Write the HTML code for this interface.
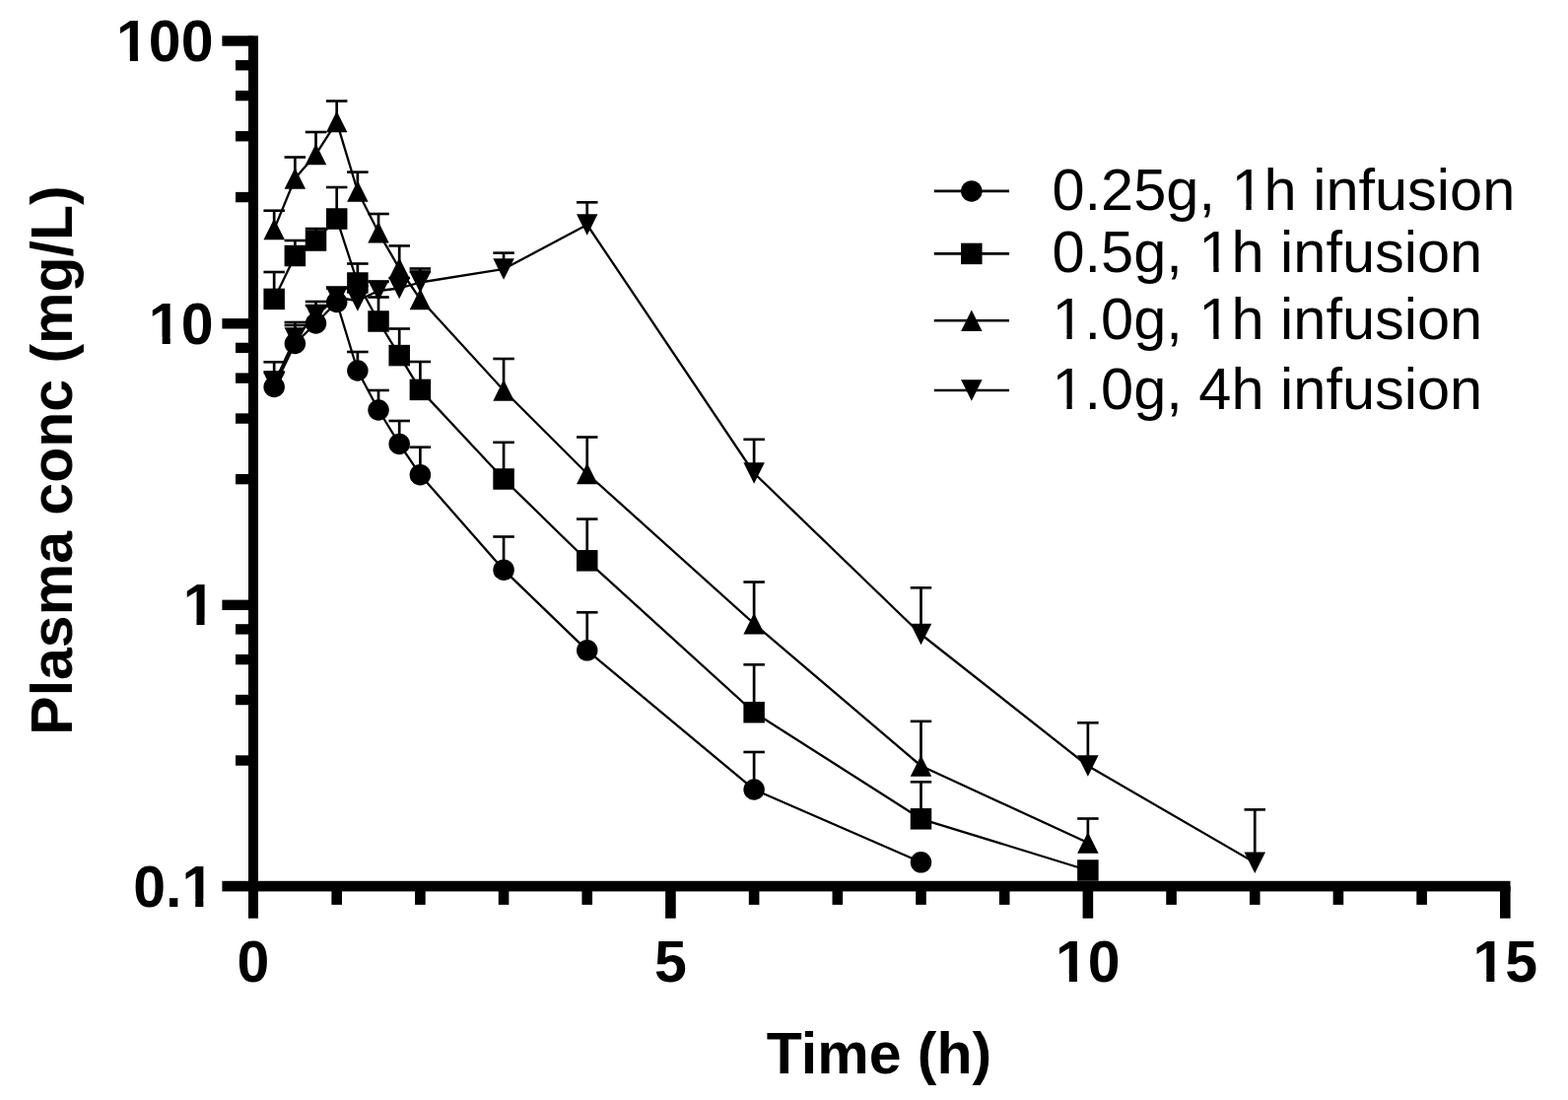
<!DOCTYPE html>
<html><head><meta charset="utf-8"><title>Plasma concentration</title>
<style>
html,body{margin:0;padding:0;background:#fff;}
body{width:1591px;height:1116px;overflow:hidden;}
svg{display:block;}
.ax{font-family:"Liberation Sans",Arial,sans-serif;font-weight:bold;font-size:59px;fill:#000;}
.lg{font-family:"Liberation Sans",Arial,sans-serif;font-weight:normal;font-size:59.5px;fill:#000;}
</style></head><body>
<svg width="1591" height="1116" viewBox="0 0 1591 1116">
<rect width="100%" height="100%" fill="#fff"/>
<g fill="#000">
<rect x="252" y="36.3" width="10" height="895.4"/>
<rect x="225.4" y="893.8" width="1307.1" height="10.6"/>
<rect x="225.4" y="36.3" width="31.6" height="10.4"/>
<rect x="225.4" y="323.1" width="31.6" height="10.4"/>
<rect x="225.4" y="608.6" width="31.6" height="10.4"/>
<rect x="239" y="194.86" width="18" height="10.4"/>
<rect x="239" y="133.02" width="18" height="10.4"/>
<rect x="239" y="91.89" width="18" height="10.4"/>
<rect x="239" y="61.02" width="18" height="10.4"/>
<rect x="239" y="480.94" width="18" height="10.4"/>
<rect x="239" y="419.38" width="18" height="10.4"/>
<rect x="239" y="378.44" width="18" height="10.4"/>
<rect x="239" y="347.71" width="18" height="10.4"/>
<rect x="239" y="766.33" width="18" height="10.4"/>
<rect x="239" y="704.82" width="18" height="10.4"/>
<rect x="239" y="663.9" width="18" height="10.4"/>
<rect x="239" y="633.19" width="18" height="10.4"/>
<rect x="336.39" y="899.1" width="10.6" height="18.8"/>
<rect x="421.07" y="899.1" width="10.6" height="18.8"/>
<rect x="505.76" y="899.1" width="10.6" height="18.8"/>
<rect x="590.45" y="899.1" width="10.6" height="18.8"/>
<rect x="675.13" y="899.1" width="10.6" height="32.6"/>
<rect x="759.82" y="899.1" width="10.6" height="18.8"/>
<rect x="844.51" y="899.1" width="10.6" height="18.8"/>
<rect x="929.19" y="899.1" width="10.6" height="18.8"/>
<rect x="1013.88" y="899.1" width="10.6" height="18.8"/>
<rect x="1098.57" y="899.1" width="10.6" height="32.6"/>
<rect x="1183.25" y="899.1" width="10.6" height="18.8"/>
<rect x="1267.94" y="899.1" width="10.6" height="18.8"/>
<rect x="1352.63" y="899.1" width="10.6" height="18.8"/>
<rect x="1437.31" y="899.1" width="10.6" height="18.8"/>
<rect x="1522" y="899.1" width="10.6" height="32.6"/>
</g>
<g fill="#000">
<polyline points="278.17,389 299.34,343 320.51,320 341.69,302 362.86,305 384.03,295 405.2,292.5 426.37,286.5 511.06,273 595.75,228 765.12,480 934.49,643.5 1103.87,777 1273.24,875.2" fill="none" stroke="#000" stroke-width="2.3" stroke-linejoin="round"/>
<path d="M278.17 389V367.3M299.34 343V327M320.51 320V306M341.69 302V291.5M362.86 305V290M384.03 295V285.9M405.2 292.5V282M426.37 286.5V272.5M511.06 273V256.6M595.75 228V205.3M765.12 480V445.8M934.49 643.5V596.3M1103.87 777V733.3M1273.24 875.2V821.4" fill="none" stroke="#000" stroke-width="2.7"/>
<rect x="267.42" y="366" width="21.5" height="2.6"/>
<rect x="288.59" y="325.7" width="21.5" height="2.6"/>
<rect x="309.76" y="304.7" width="21.5" height="2.6"/>
<rect x="330.94" y="290.2" width="21.5" height="2.6"/>
<rect x="352.11" y="288.7" width="21.5" height="2.6"/>
<rect x="373.28" y="284.6" width="21.5" height="2.6"/>
<rect x="394.45" y="280.7" width="21.5" height="2.6"/>
<rect x="415.62" y="271.2" width="21.5" height="2.6"/>
<rect x="500.31" y="255.3" width="21.5" height="2.6"/>
<rect x="585" y="204" width="21.5" height="2.6"/>
<rect x="754.37" y="444.5" width="21.5" height="2.6"/>
<rect x="923.74" y="595" width="21.5" height="2.6"/>
<rect x="1093.12" y="732" width="21.5" height="2.6"/>
<rect x="1262.49" y="820.1" width="21.5" height="2.6"/>
<polygon points="267.42,378.25 288.92,378.25 278.17,399.75"/>
<polygon points="288.59,332.25 310.09,332.25 299.34,353.75"/>
<polygon points="309.76,309.25 331.26,309.25 320.51,330.75"/>
<polygon points="330.94,291.25 352.44,291.25 341.69,312.75"/>
<polygon points="352.11,294.25 373.61,294.25 362.86,315.75"/>
<polygon points="373.28,284.25 394.78,284.25 384.03,305.75"/>
<polygon points="394.45,281.75 415.95,281.75 405.2,303.25"/>
<polygon points="415.62,275.75 437.12,275.75 426.37,297.25"/>
<polygon points="500.31,262.25 521.81,262.25 511.06,283.75"/>
<polygon points="585,217.25 606.5,217.25 595.75,238.75"/>
<polygon points="754.37,469.25 775.87,469.25 765.12,490.75"/>
<polygon points="923.74,632.75 945.24,632.75 934.49,654.25"/>
<polygon points="1093.12,766.25 1114.62,766.25 1103.87,787.75"/>
<polygon points="1262.49,864.45 1283.99,864.45 1273.24,885.95"/>
<polyline points="278.17,232.6 299.34,181 320.51,156.6 341.69,123.6 362.86,194 384.03,235.8 405.2,272.3 426.37,303.5 511.06,396 595.75,480.5 765.12,632.8 934.49,777 1103.87,855" fill="none" stroke="#000" stroke-width="2.3" stroke-linejoin="round"/>
<path d="M278.17 232.6V213.7M299.34 181V159.5M320.51 156.6V134M341.69 123.6V102.5M362.86 194V174.6M384.03 235.8V217M405.2 272.3V249.4M426.37 303.5V275.5M511.06 396V364M595.75 480.5V443.5M765.12 632.8V590.5M934.49 777V731.8M1103.87 855V830.5" fill="none" stroke="#000" stroke-width="2.7"/>
<rect x="267.42" y="212.4" width="21.5" height="2.6"/>
<rect x="288.59" y="158.2" width="21.5" height="2.6"/>
<rect x="309.76" y="132.7" width="21.5" height="2.6"/>
<rect x="330.94" y="101.2" width="21.5" height="2.6"/>
<rect x="352.11" y="173.3" width="21.5" height="2.6"/>
<rect x="373.28" y="215.7" width="21.5" height="2.6"/>
<rect x="394.45" y="248.1" width="21.5" height="2.6"/>
<rect x="415.62" y="274.2" width="21.5" height="2.6"/>
<rect x="500.31" y="362.7" width="21.5" height="2.6"/>
<rect x="585" y="442.2" width="21.5" height="2.6"/>
<rect x="754.37" y="589.2" width="21.5" height="2.6"/>
<rect x="923.74" y="730.5" width="21.5" height="2.6"/>
<rect x="1093.12" y="829.2" width="21.5" height="2.6"/>
<polygon points="278.17,221.85 288.92,243.35 267.42,243.35"/>
<polygon points="299.34,170.25 310.09,191.75 288.59,191.75"/>
<polygon points="320.51,145.85 331.26,167.35 309.76,167.35"/>
<polygon points="341.69,112.85 352.44,134.35 330.94,134.35"/>
<polygon points="362.86,183.25 373.61,204.75 352.11,204.75"/>
<polygon points="384.03,225.05 394.78,246.55 373.28,246.55"/>
<polygon points="405.2,261.55 415.95,283.05 394.45,283.05"/>
<polygon points="426.37,292.75 437.12,314.25 415.62,314.25"/>
<polygon points="511.06,385.25 521.81,406.75 500.31,406.75"/>
<polygon points="595.75,469.75 606.5,491.25 585,491.25"/>
<polygon points="765.12,622.05 775.87,643.55 754.37,643.55"/>
<polygon points="934.49,766.25 945.24,787.75 923.74,787.75"/>
<polygon points="1103.87,844.25 1114.62,865.75 1093.12,865.75"/>
<polyline points="278.17,303.4 299.34,259.5 320.51,244 341.69,222 362.86,287 384.03,326 405.2,360.6 426.37,395.4 511.06,486 595.75,568.8 765.12,722.7 934.49,830.8 1103.87,883" fill="none" stroke="#000" stroke-width="2.3" stroke-linejoin="round"/>
<path d="M278.17 303.4V276M299.34 259.5V244M320.51 244V232M341.69 222V190M362.86 287V267.5M384.03 326V301.5M405.2 360.6V333.5M426.37 395.4V367M511.06 486V448.8M595.75 568.8V526.6M765.12 722.7V674.3M934.49 830.8V793.3" fill="none" stroke="#000" stroke-width="2.7"/>
<rect x="267.42" y="274.7" width="21.5" height="2.6"/>
<rect x="288.59" y="242.7" width="21.5" height="2.6"/>
<rect x="309.76" y="230.7" width="21.5" height="2.6"/>
<rect x="330.94" y="188.7" width="21.5" height="2.6"/>
<rect x="352.11" y="266.2" width="21.5" height="2.6"/>
<rect x="373.28" y="300.2" width="21.5" height="2.6"/>
<rect x="394.45" y="332.2" width="21.5" height="2.6"/>
<rect x="415.62" y="365.7" width="21.5" height="2.6"/>
<rect x="500.31" y="447.5" width="21.5" height="2.6"/>
<rect x="585" y="525.3" width="21.5" height="2.6"/>
<rect x="754.37" y="673" width="21.5" height="2.6"/>
<rect x="923.74" y="792" width="21.5" height="2.6"/>
<rect x="267.42" y="292.65" width="21.5" height="21.5"/>
<rect x="288.59" y="248.75" width="21.5" height="21.5"/>
<rect x="309.76" y="233.25" width="21.5" height="21.5"/>
<rect x="330.94" y="211.25" width="21.5" height="21.5"/>
<rect x="352.11" y="276.25" width="21.5" height="21.5"/>
<rect x="373.28" y="315.25" width="21.5" height="21.5"/>
<rect x="394.45" y="349.85" width="21.5" height="21.5"/>
<rect x="415.62" y="384.65" width="21.5" height="21.5"/>
<rect x="500.31" y="475.25" width="21.5" height="21.5"/>
<rect x="585" y="558.05" width="21.5" height="21.5"/>
<rect x="754.37" y="711.95" width="21.5" height="21.5"/>
<rect x="923.74" y="820.05" width="21.5" height="21.5"/>
<rect x="1093.12" y="872.25" width="21.5" height="21.5"/>
<polyline points="278.17,392.5 299.34,348.5 320.51,328 341.69,306.5 362.86,376 384.03,416 405.2,450.4 426.37,481.7 511.06,578.2 595.75,659.8 765.12,801 934.49,874.8" fill="none" stroke="#000" stroke-width="2.3" stroke-linejoin="round"/>
<path d="M278.17 392.5V377.5M299.34 348.5V330M320.51 328V310M341.69 306.5V292.5M362.86 376V357M384.03 416V396M405.2 450.4V427M426.37 481.7V453.7M511.06 578.2V544.5M595.75 659.8V621.3M765.12 801V763" fill="none" stroke="#000" stroke-width="2.7"/>
<rect x="267.42" y="376.2" width="21.5" height="2.6"/>
<rect x="288.59" y="328.7" width="21.5" height="2.6"/>
<rect x="309.76" y="308.7" width="21.5" height="2.6"/>
<rect x="330.94" y="291.2" width="21.5" height="2.6"/>
<rect x="352.11" y="355.7" width="21.5" height="2.6"/>
<rect x="373.28" y="394.7" width="21.5" height="2.6"/>
<rect x="394.45" y="425.7" width="21.5" height="2.6"/>
<rect x="415.62" y="452.4" width="21.5" height="2.6"/>
<rect x="500.31" y="543.2" width="21.5" height="2.6"/>
<rect x="585" y="620" width="21.5" height="2.6"/>
<rect x="754.37" y="761.7" width="21.5" height="2.6"/>
<circle cx="278.17" cy="392.5" r="10.75"/>
<circle cx="299.34" cy="348.5" r="10.75"/>
<circle cx="320.51" cy="328" r="10.75"/>
<circle cx="341.69" cy="306.5" r="10.75"/>
<circle cx="362.86" cy="376" r="10.75"/>
<circle cx="384.03" cy="416" r="10.75"/>
<circle cx="405.2" cy="450.4" r="10.75"/>
<circle cx="426.37" cy="481.7" r="10.75"/>
<circle cx="511.06" cy="578.2" r="10.75"/>
<circle cx="595.75" cy="659.8" r="10.75"/>
<circle cx="765.12" cy="801" r="10.75"/>
<circle cx="934.49" cy="874.8" r="10.75"/>
</g>
<line x1="947.8" y1="193.9" x2="1024" y2="193.9" stroke="#000" stroke-width="2.6"/>
<circle cx="985.8" cy="193.9" r="10.75"/>
<line x1="947.8" y1="257.4" x2="1024" y2="257.4" stroke="#000" stroke-width="2.6"/>
<rect x="975.05" y="246.65" width="21.5" height="21.5"/>
<line x1="947.8" y1="325.3" x2="1024" y2="325.3" stroke="#000" stroke-width="2.6"/>
<polygon points="985.8,314.55 996.55,336.05 975.05,336.05"/>
<line x1="947.8" y1="396" x2="1024" y2="396" stroke="#000" stroke-width="2.6"/>
<polygon points="975.05,385.25 996.55,385.25 985.8,406.75"/>
<mask id="nf" maskUnits="userSpaceOnUse" x="0" y="0" width="1591" height="1116">
<rect width="1591" height="1116" fill="#fff"/>
<rect x="1252.79" y="207.15" width="11.63" height="6.85" fill="#000"/>
<rect x="1269.68" y="207.15" width="11.17" height="6.85" fill="#000"/>
<rect x="1219.7" y="270.65" width="11.63" height="6.85" fill="#000"/>
<rect x="1236.59" y="270.65" width="11.17" height="6.85" fill="#000"/>
<rect x="1070.83" y="338.55" width="11.63" height="6.85" fill="#000"/>
<rect x="1087.72" y="338.55" width="11.17" height="6.85" fill="#000"/>
<rect x="1219.7" y="338.55" width="11.63" height="6.85" fill="#000"/>
<rect x="1236.59" y="338.55" width="11.17" height="6.85" fill="#000"/>
<rect x="1070.83" y="409.25" width="11.63" height="6.85" fill="#000"/>
<rect x="1087.72" y="409.25" width="11.17" height="6.85" fill="#000"/>
<rect x="120.58" y="55.08" width="11.25" height="8.42" fill="#000"/>
<rect x="139.93" y="55.08" width="10.51" height="8.42" fill="#000"/>
<rect x="153.39" y="341.88" width="11.25" height="8.42" fill="#000"/>
<rect x="172.74" y="341.88" width="10.51" height="8.42" fill="#000"/>
<rect x="188.2" y="627.38" width="11.25" height="8.42" fill="#000"/>
<rect x="207.55" y="627.38" width="10.51" height="8.42" fill="#000"/>
<rect x="187" y="912.68" width="11.25" height="8.42" fill="#000"/>
<rect x="206.35" y="912.68" width="10.51" height="8.42" fill="#000"/>
<rect x="1073.57" y="988.98" width="11.25" height="8.42" fill="#000"/>
<rect x="1092.92" y="988.98" width="10.51" height="8.42" fill="#000"/>
<rect x="1497" y="988.98" width="11.25" height="8.42" fill="#000"/>
<rect x="1516.35" y="988.98" width="10.51" height="8.42" fill="#000"/>
</mask>
<g mask="url(#nf)">
<text x="1067.5" y="212.6" class="lg">0.25g, 1h infusion</text>
<text x="1067.5" y="276.1" class="lg">0.5g, 1h infusion</text>
<text x="1067.5" y="344" class="lg">1.0g, 1h infusion</text>
<text x="1067.5" y="414.7" class="lg">1.0g, 4h infusion</text>
<text x="216.5" y="62.1" class="ax" text-anchor="end">100</text>
<text x="216.5" y="348.9" class="ax" text-anchor="end">10</text>
<text x="218.5" y="634.4" class="ax" text-anchor="end">1</text>
<text x="217.3" y="919.7" class="ax" text-anchor="end">0.1</text>
<text x="257" y="996" class="ax" text-anchor="middle">0</text>
<text x="680.43" y="996" class="ax" text-anchor="middle">5</text>
<text x="1103.87" y="996" class="ax" text-anchor="middle">10</text>
<text x="1527.3" y="996" class="ax" text-anchor="middle">15</text>
<text x="892" y="1088.6" class="ax" text-anchor="middle">Time (h)</text>
<text transform="translate(72.9 467) rotate(-90)" class="ax" text-anchor="middle">Plasma conc (mg/L)</text>
</g>
</svg>
</body></html>
